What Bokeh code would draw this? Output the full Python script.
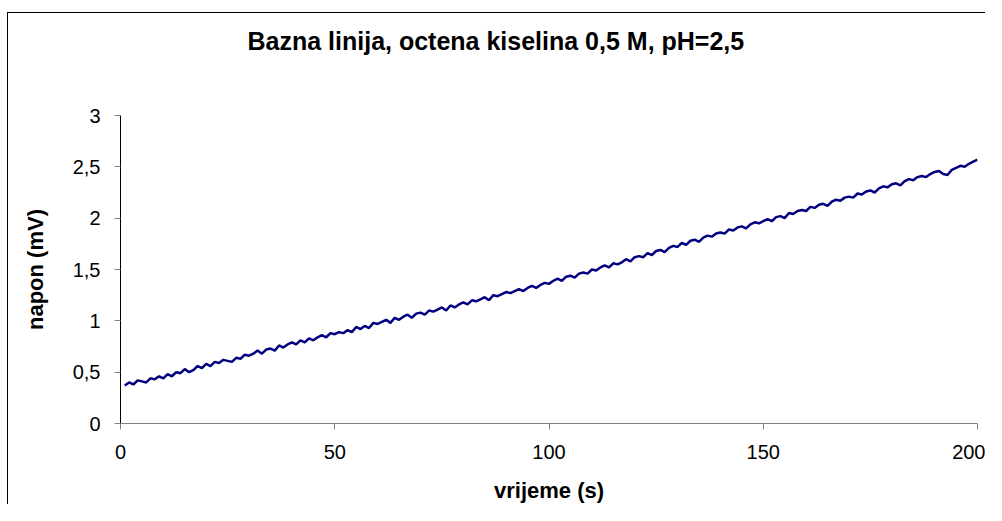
from bokeh.plotting import figure
from bokeh.models import FixedTicker, CustomJSTickFormatter, Range1d, Title
from bokeh.embed import file_html
from bokeh.resources import INLINE

title_text = "Bazna linija, octena kiselina 0,5 M, pH=2,5"
x_label = "vrijeme (s)"
y_label = "napon (mV)"
x_ticks = [0, 50, 100, 150, 200]
y_ticks = [0, 0.5, 1, 1.5, 2, 2.5, 3]

time_s = list(range(1, 201))
napon_mv = [
    0.37, 0.40, 0.38, 0.42, 0.41, 0.40, 0.44, 0.43, 0.46, 0.44,
    0.48, 0.46, 0.50, 0.49, 0.53, 0.50, 0.52, 0.56, 0.54, 0.58,
    0.56, 0.60, 0.59, 0.62, 0.61, 0.60, 0.64, 0.63, 0.67, 0.66,
    0.68, 0.71, 0.68, 0.72, 0.73, 0.71, 0.76, 0.74, 0.77, 0.79,
    0.77, 0.81, 0.79, 0.83, 0.81, 0.84, 0.86, 0.84, 0.88, 0.87,
    0.89, 0.88, 0.91, 0.89, 0.94, 0.92, 0.95, 0.93, 0.98, 0.97,
    0.99, 1.01, 0.98, 1.03, 1.01, 1.04, 1.06, 1.03, 1.07, 1.08,
    1.06, 1.10, 1.09, 1.11, 1.13, 1.10, 1.15, 1.13, 1.16, 1.18,
    1.16, 1.20, 1.19, 1.21, 1.23, 1.20, 1.25, 1.24, 1.26, 1.28,
    1.27, 1.29, 1.31, 1.29, 1.32, 1.34, 1.32, 1.35, 1.37, 1.36,
    1.39, 1.41, 1.39, 1.43, 1.44, 1.42, 1.46, 1.47, 1.46, 1.50,
    1.49, 1.52, 1.54, 1.52, 1.56, 1.55, 1.57, 1.60, 1.58, 1.62,
    1.63, 1.62, 1.66, 1.64, 1.68, 1.69, 1.67, 1.71, 1.73, 1.72,
    1.76, 1.74, 1.78, 1.79, 1.77, 1.81, 1.83, 1.82, 1.85, 1.86,
    1.85, 1.89, 1.88, 1.91, 1.92, 1.90, 1.94, 1.96, 1.95, 1.97,
    1.99, 1.97, 2.01, 2.02, 2.00, 2.05, 2.04, 2.07, 2.08, 2.07,
    2.11, 2.10, 2.13, 2.14, 2.12, 2.16, 2.18, 2.17, 2.20, 2.21,
    2.20, 2.24, 2.23, 2.26, 2.27, 2.25, 2.29, 2.31, 2.30, 2.33,
    2.34, 2.32, 2.36, 2.38, 2.37, 2.40, 2.41, 2.40, 2.43, 2.45,
    2.46, 2.43, 2.42, 2.47, 2.49, 2.51, 2.50, 2.53, 2.55, 2.57,
]

FONT = "Liberation Sans"

p = figure(
    width=978, height=492,
    output_backend="svg", toolbar_location=None,
    x_range=Range1d(0, 200), y_range=Range1d(0, 3),
    min_border_left=112, min_border_right=9,
    min_border_top=102, min_border_bottom=76,
    title=title_text,
)
p.styles = {"border-left": "1px solid black", "border-top": "1px solid black",
            "margin-top": "12px", "margin-left": "7px"}
p.outline_line_color = None
p.background_fill_color = "white"
p.border_fill_color = "white"
p.xgrid.visible = False
p.ygrid.visible = False

p.title.text_font = FONT
p.title.text_font_size = "25px"
p.title.text_font_style = "bold"
p.title.text_color = "black"
p.title.align = "left"
p.title.offset = 127
p.title.vertical_align = "top"
p.title.standoff = 24

# blank spacer between the plot area and the title
spacer = Title(text=" ", text_font=FONT, text_font_size="10px", standoff=34)
p.add_layout(spacer, "above")

fmt = CustomJSTickFormatter(code="return tick.toString().replace('.', ',');")

xax = p.below[0]
yax = p.left[0]

for ax, ticks, lab in ((xax, x_ticks, x_label), (yax, y_ticks, y_label)):
    ax.ticker = FixedTicker(ticks=ticks)
    ax.formatter = fmt
    ax.minor_tick_line_color = None
    ax.major_tick_in = 0
    ax.major_tick_out = 6
    ax.major_tick_line_color = "#808080"
    ax.major_label_text_font = FONT
    ax.major_label_text_font_size = "20px"
    ax.major_label_text_color = "black"
    ax.axis_label = lab
    ax.axis_label_text_font = FONT
    ax.axis_label_text_font_size = "22px"
    ax.axis_label_text_font_style = "bold"
    ax.axis_label_text_color = "black"

xax.axis_line_color = "#808080"
yax.axis_line_color = "black"
xax.major_label_standoff = 15
yax.major_label_standoff = 14
xax.axis_label_standoff = 16
yax.axis_label_standoff = 22

p.line(time_s, napon_mv, line_color="#000080", line_width=2.5)

open("out.html", "w").write(file_html(p, INLINE))
